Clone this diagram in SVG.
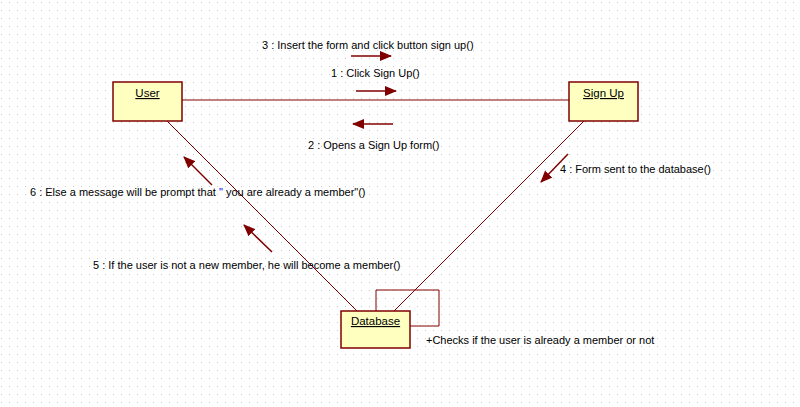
<svg xmlns="http://www.w3.org/2000/svg" width="800" height="407" viewBox="0 0 800 407">
<defs>
<pattern id="grid" x="1" y="2" width="8" height="8" patternUnits="userSpaceOnUse">
<rect x="0" y="0" width="1" height="1" fill="#c8c8c8"/>
</pattern>
<marker id="ah" viewBox="0 0 12 10" refX="11" refY="5" markerWidth="12" markerHeight="10" markerUnits="userSpaceOnUse" orient="auto">
<path d="M0,0 L12,5 L0,10 Z" fill="#800000"/>
</marker>
<style>
.box{fill:#ffffc0;stroke:#800000;stroke-width:1.5}
.lnk{stroke:#800000;stroke-width:1;fill:none}
.msg{stroke:#800000;stroke-width:1.5;fill:none;marker-end:url(#ah)}
text{font-family:"Liberation Sans",Arial,sans-serif;font-size:11px;fill:#000}
.nm{text-anchor:middle;text-decoration:underline;font-size:11.5px}
</style>
</defs>
<rect width="800" height="407" fill="#ffffff"/>
<rect width="800" height="407" fill="url(#grid)"/>
<g id="connectors">
<line class="lnk" x1="182" y1="100" x2="569" y2="100"/>
<line class="lnk" x1="167" y1="121" x2="357" y2="311"/>
<line class="lnk" x1="584" y1="121" x2="394" y2="311"/>
<polyline class="lnk" points="376,311 376,290 439,290 439,326 410,326"/>
<line class="msg" x1="351" y1="56" x2="391" y2="56"/>
<line class="msg" x1="356" y1="91" x2="396" y2="91"/>
<line class="msg" x1="393" y1="124" x2="353" y2="124"/>
<line class="msg" x1="568" y1="154" x2="541" y2="182"/>
<line class="msg" x1="212" y1="185" x2="184" y2="157"/>
<line class="msg" x1="272" y1="252" x2="244" y2="225"/>
<text x="262" y="49">3 : Insert the form and click button sign up()</text>
<text x="331" y="77">1 : Click Sign Up()</text>
<text x="308" y="149">2 : Opens a Sign Up form()</text>
<text x="560" y="173">4 : Form sent to the database()</text>
<text x="30" y="196">6 : Else a message will be prompt that <tspan fill="#0000ff">"</tspan> you are already a member"()</text>
<text x="93" y="269">5 : If the user is not a new member, he will become a member()</text>
</g>
<g id="user">
<rect class="box" x="113" y="82" width="69" height="39"/>
<text class="nm" x="147.5" y="97">User</text>
</g>
<g id="signup">
<rect class="box" x="569" y="82" width="69" height="39"/>
<text class="nm" x="603.5" y="97">Sign Up</text>
</g>
<g id="database">
<rect class="box" x="341" y="311" width="69" height="37"/>
<text class="nm" x="375.5" y="325">Database</text>
<text x="426" y="344">+Checks if the user is already a member or not</text>
</g>
</svg>
